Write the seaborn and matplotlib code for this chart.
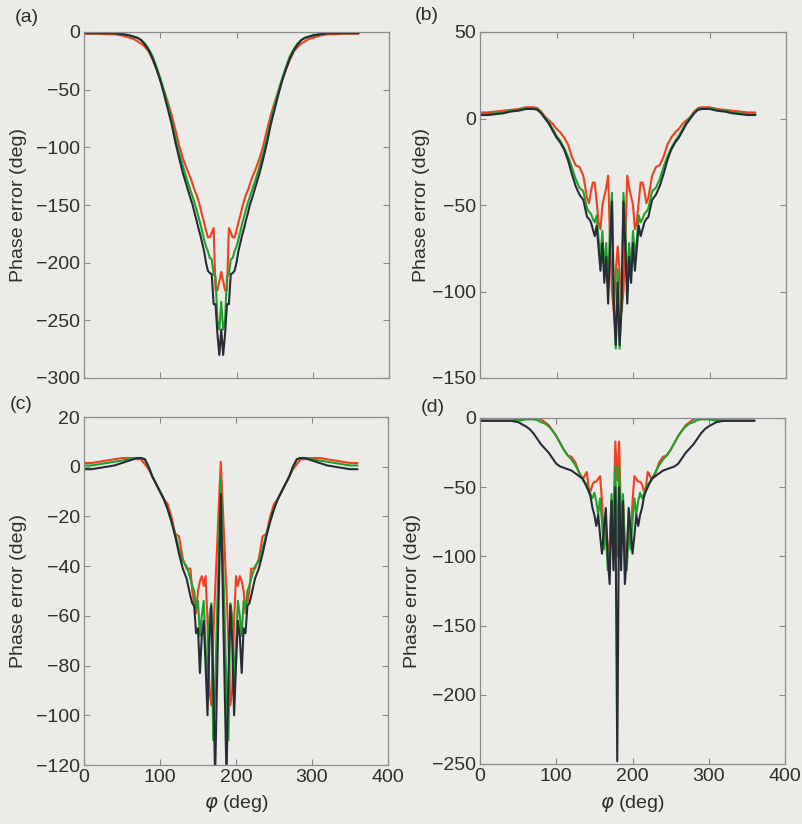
import matplotlib
matplotlib.use("Agg")
import matplotlib.pyplot as plt
import seaborn as sns

# shared azimuth grid (deg)
phi = [0, 10, 20, 30, 40, 50, 60, 65, 70, 75, 80, 85, 90, 95, 100, 105, 110, 115, 120, 125,
       130, 135, 140, 142.5, 145, 147.5, 150, 152.5, 155, 157.5, 160, 162.5, 165, 167.5, 170,
       172.5, 175, 177.5, 180, 182.5, 185, 187.5, 190, 192.5, 195, 197.5, 200, 202.5, 205,
       207.5, 210, 212.5, 215, 217.5, 220, 225, 230, 235, 240, 245, 250, 255, 260, 265, 270,
       275, 280, 285, 290, 295, 300, 310, 320, 330, 340, 350, 360]

# ---- panel (a)
a_red = [-1.5, -1.5, -1.5, -2, -2, -3, -5, -6, -8, -10, -13, -17, -24, -32, -41, -51, -61, -72, -85, -99,
         -110, -119, -127, -132, -137, -141, -146, -152, -159, -165, -172, -178, -178, -174, -170,
         -224, -224, -216, -208, -216, -224, -224, -170, -174, -178, -178, -172, -165, -159,
         -152, -146, -141, -137, -132, -127, -119, -110, -99, -85, -72, -61, -51, -41, -32, -24,
         -17, -13, -10, -8, -6, -5, -3, -2, -2, -1.5, -1.5, -1.5]
a_green = [-1, -1, -1, -1, -1, -1.5, -3, -4, -5, -7, -10, -15, -21, -30, -40, -51, -63, -77, -92, -105,
           -117, -128, -138, -143, -148, -154, -160, -166, -173, -180, -186, -190, -196, -197, -210,
           -212, -250, -258, -234, -258, -250, -212, -210, -197, -196, -190, -186, -180, -173,
           -166, -160, -154, -148, -143, -138, -128, -117, -105, -92, -77, -63, -51, -40, -30, -21,
           -15, -10, -7, -5, -4, -3, -1.5, -1, -1, -1, -1, -1]
a_black = [-1, -1, -1, -1, -1, -2, -3, -4, -5, -7, -11, -16, -23, -32, -42, -54, -67, -80, -96, -110,
           -123, -134, -145, -150, -157, -163, -170, -176, -183, -190, -200, -207, -209, -210, -236,
           -236, -262, -280, -258, -280, -262, -236, -236, -210, -209, -207, -200, -190, -183,
           -176, -170, -163, -157, -150, -145, -134, -123, -110, -96, -80, -67, -54, -42, -32, -23,
           -16, -11, -7, -5, -4, -3, -2, -1, -1, -1, -1, -1]

# ---- panel (b)
b_red = [3.5, 3.5, 4, 4.5, 5, 5.5, 6.5, 6.5, 6.5, 6, 4, 1, -1, -3, -6, -8, -11, -15, -22, -27,
         -28, -33, -46, -49, -42, -37, -37, -48, -60, -64, -50, -45, -40, -33, -70,
         -100, -112, -88, -74, -88, -112, -100, -70, -33, -40, -45, -50, -64, -60,
         -48, -37, -37, -42, -49, -46, -33, -28, -27, -22, -15, -11, -8, -6, -3, -1,
         1, 4, 6, 6.5, 6.5, 6.5, 5.5, 5, 4.5, 4, 3.5, 3.5]
b_green = [2.5, 2.5, 3, 3.5, 4.5, 5, 6, 6, 6, 5.5, 3.5, 0.5, -2, -6, -10, -13, -17, -22, -28, -35,
           -40, -42, -52, -54, -55, -58, -60, -56, -70, -80, -65, -88, -72, -100, -60,
           -43, -105, -133, -87, -133, -105, -43, -60, -100, -72, -88, -65, -80, -70,
           -56, -60, -58, -55, -54, -52, -42, -40, -35, -28, -22, -17, -13, -10, -6, -2,
           0.5, 3.5, 5.5, 6, 6, 6, 5, 4.5, 3.5, 3, 2.5, 2.5]
b_black = [2, 2, 2.5, 3, 4, 4.5, 5.5, 5.5, 5.5, 5, 3, 0, -3, -7, -11, -14, -18, -24, -32, -39,
           -44, -47, -57, -58, -60, -64, -68, -62, -75, -88, -72, -95, -80, -107, -75,
           -48, -110, -131, -95, -131, -110, -48, -75, -107, -80, -95, -72, -88, -75,
           -62, -68, -64, -60, -58, -57, -47, -44, -39, -32, -24, -18, -14, -11, -7, -3,
           0, 3, 5, 5.5, 5.5, 5.5, 4.5, 4, 3, 2.5, 2, 2]

# ---- panel (c)
c_red = [1.5, 1.5, 2, 2.5, 3, 3.5, 3.5, 3.5, 3, 3, 1, -1, -4, -7, -10, -13, -15, -20, -27, -28,
         -37, -41, -41, -50, -55, -59, -50, -46, -44, -48, -44, -62, -90, -96, -70,
         -50, -33, -15, 2, -15, -33, -50, -70, -96, -90, -62, -44, -48, -44,
         -46, -50, -59, -55, -50, -41, -41, -37, -28, -27, -20, -15, -13, -10, -7, -4,
         -1, 1, 3, 3, 3.5, 3.5, 3.5, 3, 2.5, 2, 1.5, 1.5]
c_green = [0.5, 0.5, 1, 1.5, 2, 2.5, 3, 3.5, 3.5, 3.5, 3, 0, -4, -7, -10, -13, -17, -22, -27, -33,
           -38, -40, -45, -48, -50, -57, -54, -68, -60, -54, -72, -88, -60, -55, -110,
           -90, -60, -33, -5, -33, -60, -90, -110, -55, -60, -88, -72, -54, -60,
           -68, -54, -57, -50, -48, -45, -40, -38, -33, -27, -22, -17, -13, -10, -7, -4,
           0, 3, 3.5, 3.5, 3.5, 3, 2.5, 2, 1.5, 1, 0.5, 0.5]
c_black = [-1, -1, -0.5, 0, 0.5, 1.5, 2.5, 3, 3.5, 3.5, 3, 0, -4, -7, -10, -13, -17, -22, -28, -35,
           -41, -45, -52, -55, -56, -67, -65, -83, -68, -62, -80, -100, -70, -56, -85,
           -125, -87, -49, -11, -49, -87, -125, -85, -56, -70, -100, -80, -62, -68,
           -83, -65, -67, -56, -55, -52, -45, -41, -35, -28, -22, -17, -13, -10, -7, -4,
           0, 3, 3.5, 3.5, 3, 2.5, 1.5, 0.5, 0, -0.5, -1, -1]

# ---- panel (d)
d_red = [-2, -2, -2, -2, -2, -1, 0, 0, 0, 0, -1, -3, -5, -9, -13, -18, -23, -27, -28, -32,
         -40, -44, -39, -50, -53, -48, -46, -46, -44, -42, -60, -88, -75, -96, -90,
         -60, -75, -17, -45, -17, -75, -60, -90, -96, -75, -88, -60, -42, -44,
         -46, -46, -48, -53, -50, -39, -44, -40, -32, -28, -27, -23, -18, -13, -9, -5,
         -3, -1, 0, 0, 0, 0, -1, -2, -2, -2, -2, -2]
d_green = [-2, -2, -2, -2, -2, -2, -1, -1, -1, -1.5, -3, -4, -6, -9, -13, -18, -23, -27, -30, -34,
           -39, -45, -48, -52, -55, -58, -54, -60, -70, -58, -75, -95, -80, -110, -95,
           -55, -90, -35, -100, -35, -90, -55, -95, -110, -80, -95, -75, -58, -70,
           -60, -54, -58, -55, -52, -48, -45, -39, -34, -30, -27, -23, -18, -13, -9, -6,
           -4, -3, -1.5, -1, -1, -1, -2, -2, -2, -2, -2, -2]
d_black = [-2, -2, -2, -2, -2, -3, -6, -8, -11, -15, -19, -22, -25, -29, -33, -35, -36, -37, -38, -40,
           -42, -44, -50, -53, -57, -65, -70, -78, -70, -85, -98, -80, -65, -100, -120,
           -60, -110, -50, -248, -50, -110, -60, -120, -100, -65, -80, -98, -85, -70,
           -78, -70, -65, -57, -53, -50, -44, -42, -40, -38, -37, -36, -35, -33, -29, -25,
           -22, -19, -15, -11, -8, -6, -3, -2, -2, -2, -2, -2]

panel_tags = ["(a)", "(b)", "(c)", "(d)"]
y_limits = [(-300, 0), (-150, 50), (-120, 20), (-250, 0)]
y_ticks = [[0, -50, -100, -150, -200, -250, -300],
           [50, 0, -50, -100, -150],
           [20, 0, -20, -40, -60, -80, -100, -120],
           [0, -50, -100, -150, -200, -250]]
x_ticks = [0, 100, 200, 300, 400]
series = [(a_red, a_green, a_black), (b_red, b_green, b_black),
          (c_red, c_green, c_black), (d_red, d_green, d_black)]

BG = "#ebebe8"
RED = "#f2401f"
GREEN = "#20a12c"
DARK = "#272c36"
TXT = "#2e2e2e"
FS = 14

sns.set_theme(style="ticks")
plt.rcParams["font.family"] = ["Liberation Sans", "DejaVu Sans"]
plt.rcParams["mathtext.fontset"] = "dejavusans"

fig = plt.figure(figsize=(8.02, 8.24), dpi=100, facecolor=BG)
W, H = 802, 824
rects = [(84, 32, 389, 378), (480, 32, 786, 378), (84, 417, 388, 765), (480, 418, 785, 764)]
tag_pos = [(27, 18), (427, 15), (21, 405), (433, 407)]
ylab_x = [27, 430, 27, 421]   # right edge of rotated label (px)

for i in range(4):
    l, t, r, b = rects[i]
    ax = fig.add_axes([l / W, 1 - b / H, (r - l) / W, (b - t) / H])
    ax.set_facecolor(BG)
    red, green, dark = series[i]
    sns.lineplot(x=phi, y=red, ax=ax, color=RED, lw=1.5, estimator=None, sort=False)
    sns.lineplot(x=phi, y=green, ax=ax, color=GREEN, lw=1.5, estimator=None, sort=False)
    sns.lineplot(x=phi, y=dark, ax=ax, color=DARK, lw=1.5, estimator=None, sort=False)
    ax.set_xlim(0, 400)
    ax.set_ylim(*y_limits[i])
    ax.set_xticks(x_ticks)
    ax.set_yticks(y_ticks[i])
    ax.tick_params(direction="in", top=True, right=True, length=4, width=0.8,
                   color="#888888", labelsize=FS, labelcolor=TXT, pad=3)
    for s in ax.spines.values():
        s.set_color("#8c8c8c")
        s.set_linewidth(0.9)
    ax.set_ylabel("Phase error (deg)", fontsize=FS, color=TXT)
    ax.yaxis.set_label_coords((ylab_x[i] - l) / (r - l), 0.5)
    if i < 2:
        ax.set_xticklabels([])
        ax.set_xlabel("")
    else:
        ax.set_xlabel(r"$\varphi$ (deg)", fontsize=FS, color=TXT)
        ax.xaxis.set_label_coords(0.5, -(793 - b) / (b - t))
    fig.text(tag_pos[i][0] / W, 1 - tag_pos[i][1] / H, panel_tags[i], fontsize=FS,
             color=TXT, ha="center", va="center")

fig.savefig("out.png", dpi=100, facecolor=BG)
